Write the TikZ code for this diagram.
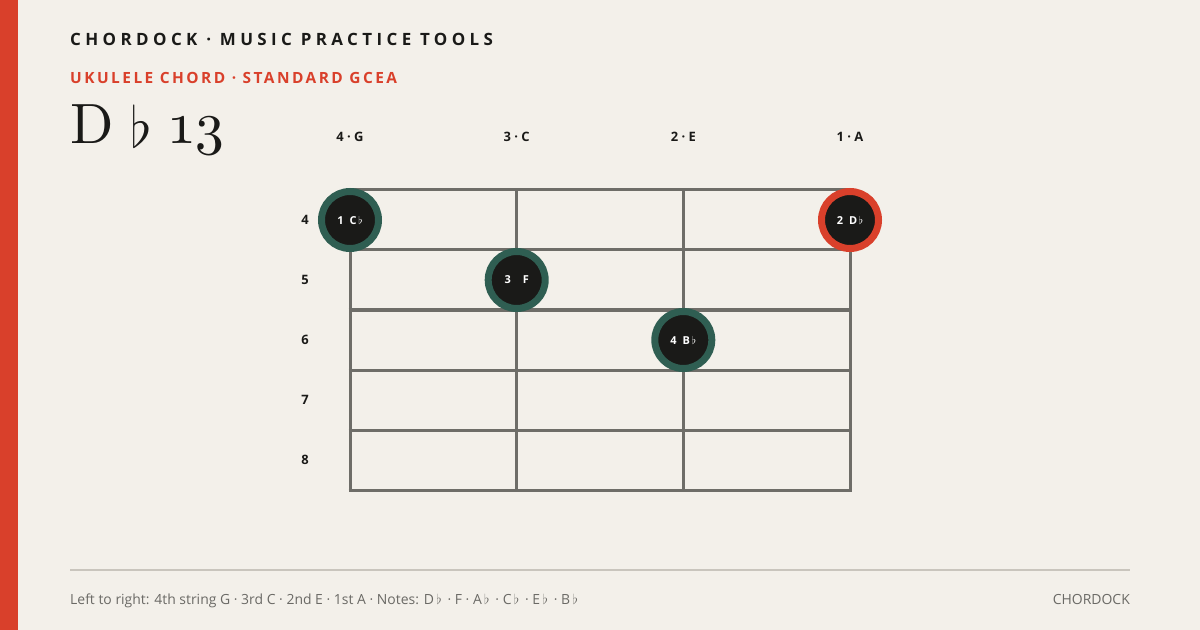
\RequirePackage{fix-cm}
\documentclass[tikz,border=0pt]{standalone}
\usepackage{fontspec}
\setmainfont{Open Sans}
\usepackage{tikz}
\usetikzlibrary{positioning}
\usepackage{xcolor}

\definecolor{paper}{HTML}{F3F0EA}
\definecolor{accent}{HTML}{D9402B}
\definecolor{ink}{HTML}{1A1A18}
\definecolor{fretgray}{HTML}{6E6D68}
\definecolor{rulegray}{HTML}{C9C5BD}
\definecolor{ringgreen}{HTML}{2F5E52}
\definecolor{footgray}{HTML}{6A6965}

\newcommand{\fl}{\ensuremath{\flat}}
\newfontfamily\titlefont{lmroman10-regular.otf}

\begin{document}
\begin{tikzpicture}[x=1bp, y=-1bp,
    strlabel/.style={font=\fontsize{13}{15}\selectfont\bfseries, text=ink},
    fretnum/.style={font=\fontsize{13}{15}\selectfont\bfseries, text=ink},
    fretline/.style={draw=fretgray, line width=3bp},
    dot/.style={circle, fill=ink, draw=#1, line width=7bp, minimum size=57bp, inner sep=0pt,
        text=white, font=\fontsize{11}{13}\selectfont\bfseries},
    foot/.style={font=\fontsize{14}{16}\selectfont, text=footgray}]
  \useasboundingbox (0,0) rectangle (1200,630);
  \fill [paper] (0,0) rectangle (1200,630);
  \fill [accent] (0,0) rectangle (18,630);

  % heading
  \node (brand) [anchor=base west, inner sep=0pt, text=ink,
    font=\fontsize{17}{20}\selectfont\bfseries\addfontfeatures{LetterSpace=26}]
    at (70,46) {CHORDOCK · MUSIC PRACTICE TOOLS};
  \node (tuning) [anchor=base west, inner sep=0pt, text=accent,
    font=\fontsize{15.5}{18}\selectfont\bfseries\addfontfeatures{LetterSpace=16}]
    at (70,84) {UKULELE CHORD · STANDARD GCEA};
  \node (chord) [anchor=base west, inner sep=0pt, text=ink,
    font=\fontsize{57}{62}\selectfont\titlefont]
    at (70,144) {D\hspace{17bp}\raisebox{-4bp}{\fl}\hspace{18bp}{\fontsize{58}{64}\selectfont\oldstylenums{13}}};

  % strings and frets
  \foreach \s/\x/\lab in {4/350/{4 · G}, 3/516.7/{3 · C}, 2/683.3/{2 · E}, 1/850/{1 · A}} {
    \node (s\s) [strlabel] at (\x,137) {\lab};
    \draw [fretline] (\x,190) -- (\x,490);
  }
  \foreach \f/\y in {0/190, 1/250, 2/310, 3/370, 4/430, 5/490}
    \draw [fretline] (348.5,\y) -- (851.5,\y);
  \foreach \f/\y in {4/220, 5/280, 6/340, 7/400, 8/460}
    \node (f\f) [fretnum] at (305,\y) {\f};

  % fingers
  \node (d1) [dot=ringgreen] at (350,220) {1\hspace{6bp}C\,\fl};
  \node (d2) [dot=accent] at (850,220) {2\hspace{6bp}D\,\fl};
  \node (d3) [dot=ringgreen] at (516.7,280) {3\hspace{12bp}F};
  \node (d4) [dot=ringgreen] at (683.3,340) {4\hspace{6bp}B\,\fl};

  % footer
  \draw [rulegray, line width=2bp] (70,570) -- (1130,570);
  \node (notes) [foot, anchor=base west, inner sep=0pt] at (70,604)
    {Left to right: 4th string G · 3rd C · 2nd E · 1st A · Notes: D\,\fl\ \,· F · A\,\fl\ \,· C\,\fl\ \,· E\,\fl\ \,· B\,\fl};
  \node (mark) [foot, anchor=base east, inner sep=0pt] at (1130,604) {CHORDOCK};
\end{tikzpicture}
\end{document}
